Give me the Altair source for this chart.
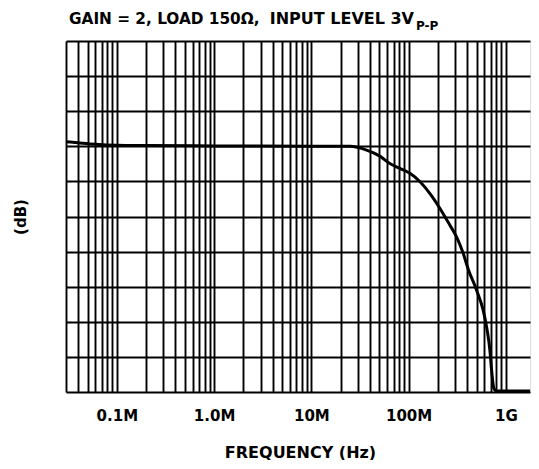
import altair as alt
import pandas as pd

# ---- data ----
freq_hz = [3e4, 4e4, 6e4, 1e5, 2e5, 1e6, 1e7, 2.5e7, 3.7e7, 5.06e7, 6.41e7, 8.13e7,
           1.03e8, 1.31e8, 1.65e8, 2.10e8, 2.66e8, 3.11e8, 3.64e8, 4.10e8, 5.0e8,
           5.84e8, 6.42e8, 6.85e8, 7.13e8, 7.53e8, 8.02e8, 1e9, 2e9]
gain_div = [7.13, 7.10, 7.06, 7.03, 7.02, 7.01, 7.0, 7.0, 6.89, 6.72, 6.51, 6.37,
            6.23, 5.99, 5.66, 5.23, 4.75, 4.42, 3.95, 3.50, 2.90,
            2.33, 1.76, 1.19, 0.62, 0.10, 0.03, 0.03, 0.03]

decade_vals = [1e5, 1e6, 1e7, 1e8, 1e9]
decade_labels = ["0.1M", "1.0M", "10M", "100M", "1G"]
x_domain = [3e4, 1.77e9]
grid_freqs = [v for v in ([m * 1e4 for m in range(3, 10)] +
                          [m * 10 ** e for e in range(5, 9) for m in range(1, 10)] +
                          [1e9, 2e9])
              if x_domain[0] <= v <= x_domain[1]]
y_grid = list(range(0, 11))

title_parts = ["GAIN = 2, LOAD 150\u03a9,", "INPUT LEVEL 3V", "P-P"]

FONT = "DejaVu Sans"
W, H = 464, 351

df = pd.DataFrame({"freq": freq_hz, "gain": gain_div})
tdf = pd.DataFrame({"t1": [title_parts[0]], "t2": [title_parts[1]], "t3": [title_parts[2]]})

label_expr = " : ".join(
    f"datum.value == {v:.0f} ? '{l}'" for v, l in zip(decade_vals, decade_labels)
) + " : ''"

x = alt.X(
    "freq:Q",
    scale=alt.Scale(type="log", domain=x_domain, nice=False),
    axis=alt.Axis(
        values=grid_freqs, labelExpr=label_expr, grid=True, gridColor="black",
        gridWidth=1.9, gridOpacity=1, ticks=False, tickSize=0, domain=False,
        labelFont=FONT, labelFontSize=15, labelFontWeight="bold", labelColor="black",
        labelPadding=23, labelBaseline="middle", labelOverlap=False, labelBound=False,
        labelFlush=False,
        title="FREQUENCY (Hz)", titleFont=FONT, titleFontSize=16, titleFontWeight="bold",
        titleColor="black", titleX=234, titleY=65, titleAlign="center",
        titleBaseline="alphabetic",
    ),
)
y = alt.Y(
    "gain:Q",
    scale=alt.Scale(domain=[0, 10], nice=False),
    axis=alt.Axis(
        values=y_grid, grid=True, gridColor="black", gridWidth=1.9, gridOpacity=1,
        labels=False, ticks=False, domain=False,
        title="(dB)", titleFont=FONT, titleFontSize=15, titleFontWeight="bold",
        titleColor="black", titleX=-46, titleY=H / 2, titleAngle=270,
        titleAlign="center", titleBaseline="middle",
    ),
)

line = alt.Chart(df).mark_line(color="black", strokeWidth=3, interpolate="monotone",
                               clip=True).encode(x=x, y=y)

t1 = alt.Chart(tdf).mark_text(font=FONT, fontSize=15.3, fontWeight="bold", align="left",
                              baseline="alphabetic", color="black").encode(
    text="t1:N", x=alt.value(3), y=alt.value(-17))
t2 = alt.Chart(tdf).mark_text(font=FONT, fontSize=16, fontWeight="bold", align="right",
                              baseline="alphabetic", color="black").encode(
    text="t2:N", x=alt.value(348), y=alt.value(-17))
t3 = alt.Chart(tdf).mark_text(font=FONT, fontSize=12, fontWeight="bold", align="left",
                              baseline="alphabetic", color="black").encode(
    text="t3:N", x=alt.value(350), y=alt.value(-11.5))

chart = alt.layer(line, t1, t2, t3).properties(
    width=W, height=H,
    autosize=alt.AutoSizeParams(type="none"),
    padding={"left": 58, "top": 33, "right": 1, "bottom": 68},
).configure_view(stroke="black", strokeWidth=2).configure(background="white")

chart.save("out.html", embed_options={"renderer": "svg", "actions": False})
